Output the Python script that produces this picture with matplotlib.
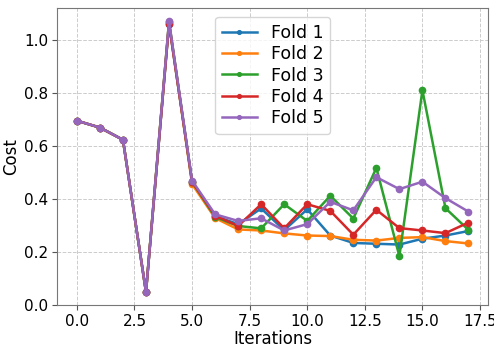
import numpy as np
import matplotlib
matplotlib.use('Agg')
import matplotlib.pyplot as plt

iterations = list(range(18))

fold1 = [0.695, 0.669, 0.623, 0.049, 1.060, 0.465, 0.335, 0.305, 0.364, 0.282, 0.361,
         0.262, 0.234, 0.231, 0.228, 0.250, 0.262, 0.279]
fold2 = [0.695, 0.669, 0.623, 0.049, 1.068, 0.456, 0.328, 0.285, 0.281, 0.270, 0.262,
         0.260, 0.246, 0.243, 0.253, 0.256, 0.241, 0.232]
fold3 = [0.695, 0.669, 0.623, 0.049, 1.068, 0.465, 0.332, 0.298, 0.289, 0.380, 0.317,
         0.412, 0.326, 0.517, 0.184, 0.810, 0.365, 0.283]
fold4 = [0.695, 0.669, 0.623, 0.049, 1.060, 0.465, 0.337, 0.298, 0.380, 0.289, 0.380,
         0.355, 0.265, 0.359, 0.290, 0.281, 0.271, 0.311]
fold5 = [0.695, 0.669, 0.623, 0.049, 1.070, 0.469, 0.342, 0.317, 0.327, 0.281, 0.305,
         0.389, 0.357, 0.482, 0.437, 0.465, 0.403, 0.352]

folds = [fold1, fold2, fold3, fold4, fold5]
labels = ['Fold 1', 'Fold 2', 'Fold 3', 'Fold 4', 'Fold 5']
colors = ['#1f77b4', '#ff7f0e', '#2ca02c', '#d62728', '#9467bd']

fig, ax = plt.subplots(figsize=(4.94, 3.47), dpi=100)
fig.subplots_adjust(left=0.116, right=0.988, top=0.977, bottom=0.121)

for vals, lab, col in zip(folds, labels, colors):
    ax.plot(iterations, vals, marker='o', markersize=4.5, linewidth=1.8,
            color=col, label=lab)

ax.set_ylim(0, 1.12)
ax.set_xlim(-0.85, 17.85)
ax.set_xticks(np.arange(0, 17.6, 2.5))
ax.set_yticks(np.arange(0, 1.01, 0.2))
ax.grid(True, linestyle='--', color='#cccccc', linewidth=0.7)
ax.tick_params(labelsize=11, color='#555555', pad=3)
for sp in ax.spines.values():
    sp.set_color('#777777')
ax.set_xlabel('Iterations', fontsize=12, labelpad=1)
ax.set_ylabel('Cost', fontsize=12, labelpad=3)
ax.legend(loc='upper center', bbox_to_anchor=(0.5, 1.0), fontsize=12.5,
          markerscale=0.6, handlelength=2.0, labelspacing=0.2)

plt.savefig('out.png')
